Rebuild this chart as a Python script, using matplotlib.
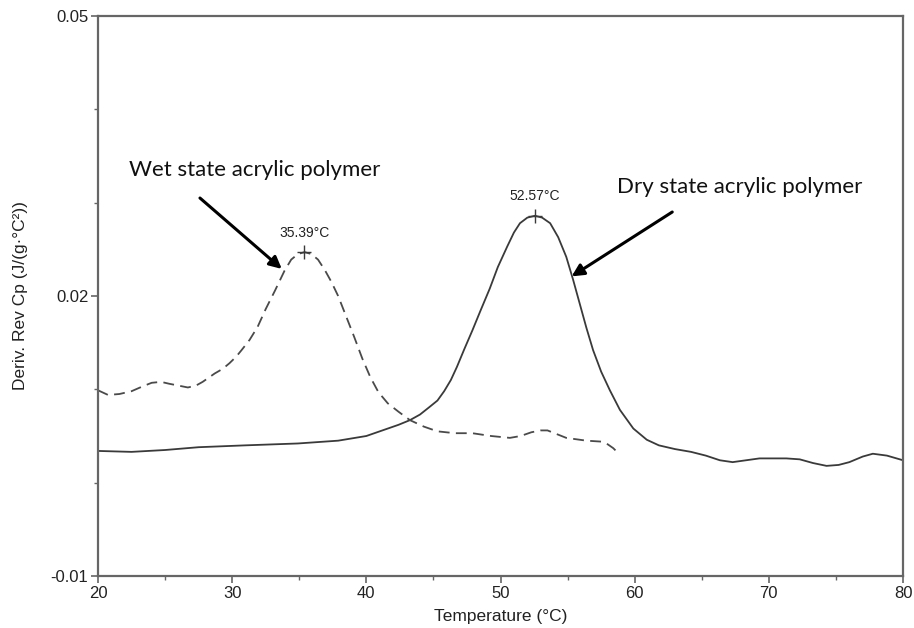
import matplotlib
matplotlib.use("Agg")
import matplotlib.pyplot as plt
from matplotlib.ticker import MultipleLocator, FixedLocator

plt.rcParams['axes.unicode_minus'] = False
plt.rcParams['font.family'] = ['Liberation Sans', 'DejaVu Sans']

# Wet state (dashed)
wet_T = [20.0, 20.75, 21.6, 22.5, 23.3, 24.0, 24.7, 25.3, 26.0, 26.7, 27.3, 27.8, 28.3,
         28.7, 29.3, 29.8, 30.3, 30.7, 31.3, 31.9, 32.5, 33.2, 33.9, 34.4, 34.9, 35.4,
         35.9, 36.4, 36.9, 37.4, 37.9, 38.5, 39.1, 39.7, 40.3, 40.9, 41.6, 42.4, 43.25,
         44.3, 45.3, 46.6, 47.9, 49.3, 50.7, 51.5, 52.3, 53.0, 53.5, 54.2, 54.9, 56.4,
         57.5, 57.9, 58.4, 58.75]
wet_v = [0.0099, 0.0094, 0.0095, 0.0098, 0.0103, 0.0107, 0.0108, 0.0106, 0.0104, 0.0102,
         0.0104, 0.0108, 0.0113, 0.0117, 0.0122, 0.0128, 0.0135, 0.0142, 0.0153, 0.0167,
         0.0186, 0.0206, 0.0227, 0.0239, 0.0245, 0.0247, 0.0245, 0.0239, 0.0228, 0.0215,
         0.0200, 0.0178, 0.0156, 0.0133, 0.0113, 0.0097, 0.0085, 0.0076, 0.0067, 0.0060,
         0.0055, 0.0053, 0.0053, 0.0050, 0.0048, 0.0050, 0.0054, 0.0056, 0.0056, 0.0052,
         0.0048, 0.0045, 0.0044, 0.0042, 0.0037, 0.0032]

# Dry state (solid)
dry_T = [20.0, 22.5, 25.0, 27.5, 31.0, 34.9, 37.9, 40.0, 41.0, 42.4, 43.25, 44.0, 44.7,
         45.3, 45.8, 46.3, 46.75, 47.3, 47.9, 48.5, 49.2, 49.8, 50.5, 51.0, 51.45, 52.0,
         52.57, 53.1, 53.7, 54.3, 54.9, 55.4, 55.9, 56.4, 56.9, 57.5, 58.15, 58.9, 59.9,
         60.9, 61.8, 63.0, 64.2, 65.3, 66.35, 67.3, 68.3, 69.3, 70.3, 71.3, 72.3, 73.3,
         74.3, 75.2, 76.0, 77.0, 77.75, 78.8, 80.0]
dry_v = [0.0034, 0.0033, 0.0035, 0.0038, 0.0040, 0.0042, 0.0045, 0.0050, 0.0055, 0.0062,
         0.0067, 0.0073, 0.0081, 0.0088, 0.0098, 0.0110, 0.0124, 0.0143, 0.0163, 0.0184,
         0.0208, 0.0231, 0.0253, 0.0268, 0.0278, 0.0284, 0.0286, 0.0284, 0.0278, 0.0263,
         0.0242, 0.0218, 0.0192, 0.0166, 0.0142, 0.0119, 0.0099, 0.0078, 0.0058, 0.0046,
         0.0040, 0.0036, 0.0033, 0.0029, 0.0024, 0.0022, 0.0024, 0.0026, 0.0026, 0.0026,
         0.0025, 0.0021, 0.0018, 0.0019, 0.0022, 0.0028, 0.0031, 0.0029, 0.0024]

peak_T = [35.39, 52.57]
peak_v = [0.0247, 0.0286]
peak_labels = ["35.39°C", "52.57°C"]

fig = plt.figure(figsize=(9.14, 6.28), dpi=100)
ax = fig.add_axes([0.1072, 0.0828, 0.8808, 0.8917])

lc = '#3a3a3a'
ax.plot(dry_T, dry_v, color=lc, lw=1.3, solid_joinstyle='round')
ax.plot(wet_T, wet_v, color='#4a4a4a', lw=1.3, dashes=(6, 3.5))
ax.plot(peak_T, peak_v, linestyle='none', marker='+', markersize=10,
        markeredgewidth=1.0, color=lc)
for t, v, lab in zip(peak_T, peak_v, peak_labels):
    ax.annotate(lab, (t, v), xytext=(0, 9), textcoords='offset points',
                ha='center', va='bottom', fontsize=10, color='#222222')

ax.set_xlim(20, 80)
ax.set_ylim(-0.01, 0.05)
ax.xaxis.set_major_locator(MultipleLocator(10))
ax.xaxis.set_minor_locator(MultipleLocator(5))
ax.yaxis.set_major_locator(FixedLocator([-0.01, 0.02, 0.05]))
ax.yaxis.set_minor_locator(MultipleLocator(0.01))
ax.set_yticklabels(["-0.01", "0.02", "0.05"])

for s in ax.spines.values():
    s.set_color('#666666')
    s.set_linewidth(1.6)
ax.tick_params(which='major', direction='out', length=5, width=1.2, color='#666666',
               labelsize=12, labelcolor='#222222', pad=2)
ax.tick_params(which='minor', direction='out', length=3, width=1.0, color='#666666')

ax.set_xlabel("Temperature (°C)", fontsize=12.5, color='#222222', labelpad=6)
ax.set_ylabel("Deriv. Rev Cp (J/(g·°C²))", fontsize=12.5, color='#222222', labelpad=16)

# Annotations
fontann = ['Lato', 'DejaVu Sans']
ax.annotate("Wet state acrylic polymer", xy=(33.7, 0.0229), xytext=(31.7, 0.0335),
            ha='center', va='center', fontsize=16, family=fontann, color='#111111')
ax.annotate("", xy=(33.7, 0.0229), xytext=(27.6, 0.0305),
            arrowprops=dict(arrowstyle='-|>', color='black', lw=2.2,
                            mutation_scale=18, shrinkA=0, shrinkB=0))
ax.annotate("Dry state acrylic polymer", xy=(55.3, 0.0221), xytext=(67.8, 0.0317),
            ha='center', va='center', fontsize=16, family=fontann, color='#111111')
ax.annotate("", xy=(55.3, 0.0221), xytext=(62.8, 0.0290),
            arrowprops=dict(arrowstyle='-|>', color='black', lw=2.2,
                            mutation_scale=18, shrinkA=0, shrinkB=0))

fig.savefig("out.png", dpi=100, facecolor='white')
